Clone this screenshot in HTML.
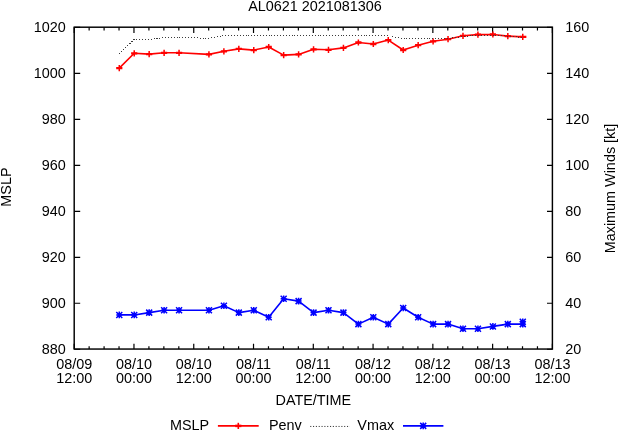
<!DOCTYPE html>
<html><head><meta charset="utf-8"><title>AL0621 2021081306</title>
<style>html,body{margin:0;padding:0;background:#fff;}svg{display:block;will-change:transform;transform:translateZ(0);}text{font-family:"Liberation Sans",sans-serif;font-size:14.4px;fill:#000;}</style>
</head><body>
<svg width="619" height="432" viewBox="0 0 619 432">
<rect width="619" height="432" fill="#fff"/>
<path d="M74.20 349.05v-5.40M74.20 27.20v5.85M89.14 349.05v-2.80M89.14 27.20v3.25M104.09 349.05v-2.80M104.09 27.20v3.25M119.03 349.05v-2.80M119.03 27.20v3.25M133.97 349.05v-5.40M133.97 27.20v5.85M148.92 349.05v-2.80M148.92 27.20v3.25M163.86 349.05v-2.80M163.86 27.20v3.25M178.81 349.05v-2.80M178.81 27.20v3.25M193.75 349.05v-5.40M193.75 27.20v5.85M208.69 349.05v-2.80M208.69 27.20v3.25M223.64 349.05v-2.80M223.64 27.20v3.25M238.58 349.05v-2.80M238.58 27.20v3.25M253.52 349.05v-5.40M253.52 27.20v5.85M268.47 349.05v-2.80M268.47 27.20v3.25M283.41 349.05v-2.80M283.41 27.20v3.25M298.36 349.05v-2.80M298.36 27.20v3.25M313.30 349.05v-5.40M313.30 27.20v5.85M328.24 349.05v-2.80M328.24 27.20v3.25M343.19 349.05v-2.80M343.19 27.20v3.25M358.13 349.05v-2.80M358.13 27.20v3.25M373.07 349.05v-5.40M373.07 27.20v5.85M388.02 349.05v-2.80M388.02 27.20v3.25M402.96 349.05v-2.80M402.96 27.20v3.25M417.91 349.05v-2.80M417.91 27.20v3.25M432.85 349.05v-5.40M432.85 27.20v5.85M447.79 349.05v-2.80M447.79 27.20v3.25M462.74 349.05v-2.80M462.74 27.20v3.25M477.68 349.05v-2.80M477.68 27.20v3.25M492.62 349.05v-5.40M492.62 27.20v5.85M507.57 349.05v-2.80M507.57 27.20v3.25M522.51 349.05v-2.80M522.51 27.20v3.25M537.46 349.05v-2.80M537.46 27.20v3.25M552.40 349.05v-5.40M552.40 27.20v5.85M74.20 27.40h6M552.40 27.40h-5.4M74.20 73.38h6M552.40 73.38h-5.4M74.20 119.36h6M552.40 119.36h-5.4M74.20 165.34h6M552.40 165.34h-5.4M74.20 211.31h6M552.40 211.31h-5.4M74.20 257.29h6M552.40 257.29h-5.4M74.20 303.27h6M552.40 303.27h-5.4M74.20 349.25h6M552.40 349.25h-5.4" stroke="#000" stroke-width="1.2" fill="none"/>
<rect x="74.20" y="27.20" width="478.20" height="321.85" fill="none" stroke="#000" stroke-width="1.45"/>
<text x="65.8" y="32.35" text-anchor="end">1020</text>
<text x="65.8" y="78.33" text-anchor="end">1000</text>
<text x="65.8" y="124.31" text-anchor="end">980</text>
<text x="65.8" y="170.29" text-anchor="end">960</text>
<text x="65.8" y="216.26" text-anchor="end">940</text>
<text x="65.8" y="262.24" text-anchor="end">920</text>
<text x="65.8" y="308.22" text-anchor="end">900</text>
<text x="65.8" y="354.20" text-anchor="end">880</text>
<text x="565.2" y="32.35">160</text>
<text x="565.2" y="78.33">140</text>
<text x="565.2" y="124.31">120</text>
<text x="565.2" y="170.29">100</text>
<text x="565.2" y="216.26">80</text>
<text x="565.2" y="262.24">60</text>
<text x="565.2" y="308.22">40</text>
<text x="565.2" y="354.20">20</text>
<text x="74.20" y="369.15" text-anchor="middle">08/09</text>
<text x="74.20" y="383.0" text-anchor="middle">12:00</text>
<text x="133.97" y="369.15" text-anchor="middle">08/10</text>
<text x="133.97" y="383.0" text-anchor="middle">00:00</text>
<text x="193.75" y="369.15" text-anchor="middle">08/10</text>
<text x="193.75" y="383.0" text-anchor="middle">12:00</text>
<text x="253.52" y="369.15" text-anchor="middle">08/11</text>
<text x="253.52" y="383.0" text-anchor="middle">00:00</text>
<text x="313.30" y="369.15" text-anchor="middle">08/11</text>
<text x="313.30" y="383.0" text-anchor="middle">12:00</text>
<text x="373.07" y="369.15" text-anchor="middle">08/12</text>
<text x="373.07" y="383.0" text-anchor="middle">00:00</text>
<text x="432.85" y="369.15" text-anchor="middle">08/12</text>
<text x="432.85" y="383.0" text-anchor="middle">12:00</text>
<text x="492.62" y="369.15" text-anchor="middle">08/13</text>
<text x="492.62" y="383.0" text-anchor="middle">00:00</text>
<text x="552.40" y="369.15" text-anchor="middle">08/13</text>
<text x="552.40" y="383.0" text-anchor="middle">12:00</text>
<text x="315" y="10.8" text-anchor="middle">AL0621 2021081306</text>
<text x="313.35" y="405.1" text-anchor="middle">DATE/TIME</text>
<text transform="translate(11.1,187.05) rotate(-90)" text-anchor="middle">MSLP</text>
<text transform="translate(614.6,188.5) rotate(-90)" text-anchor="middle">Maximum Winds [kt]</text>
<polyline points="119.28,68.10 134.22,53.30 149.17,54.10 164.11,52.80 179.06,52.80 208.94,54.40 223.89,51.30 238.83,48.90 253.77,50.10 268.72,47.00 283.66,55.10 298.61,54.40 313.55,49.30 328.49,49.80 343.44,47.90 358.38,42.50 373.32,44.00 388.27,40.10 403.21,50.00 418.16,45.20 433.10,41.30 448.04,39.20 462.99,35.80 477.93,34.60 492.88,34.50 507.82,36.10 522.76,36.90" fill="none" stroke="#f00" stroke-width="1.6" stroke-linejoin="round"/>
<path d="M116.18 68.10h6.2M131.12 53.30h6.2M146.07 54.10h6.2M161.01 52.80h6.2M175.96 52.80h6.2M205.84 54.40h6.2M220.79 51.30h6.2M235.73 48.90h6.2M250.67 50.10h6.2M265.62 47.00h6.2M280.56 55.10h6.2M295.51 54.40h6.2M310.45 49.30h6.2M325.39 49.80h6.2M340.34 47.90h6.2M355.28 42.50h6.2M370.22 44.00h6.2M385.17 40.10h6.2M400.11 50.00h6.2M415.06 45.20h6.2M430.00 41.30h6.2M444.94 39.20h6.2M459.89 35.80h6.2M474.83 34.60h6.2M489.77 34.50h6.2M504.72 36.10h6.2M519.66 36.90h6.2M525.36 36.90h1" stroke="#f00" stroke-width="2.3" fill="none"/>
<path d="M119.28 65.00v6.2M134.22 50.20v6.2M149.17 51.00v6.2M164.11 49.70v6.2M179.06 49.70v6.2M208.94 51.30v6.2M223.89 48.20v6.2M238.83 45.80v6.2M253.77 47.00v6.2M268.72 43.90v6.2M283.66 52.00v6.2M298.61 51.30v6.2M313.55 46.20v6.2M328.49 46.70v6.2M343.44 44.80v6.2M358.38 39.40v6.2M373.32 40.90v6.2M388.27 37.00v6.2M403.21 46.90v6.2M418.16 42.10v6.2M433.10 38.20v6.2M448.04 36.10v6.2M462.99 32.70v6.2M477.93 31.50v6.2M492.88 31.40v6.2M507.82 33.00v6.2M522.76 33.80v6.2" stroke="#f00" stroke-width="1.5" fill="none"/>
<polyline points="119.10,53.70 134.00,39.50 148.90,39.80 163.90,37.60 178.80,37.60 208.70,38.20 223.60,35.60 238.60,35.60 388.10,35.60 402.90,38.80 447.70,38.60 462.70,36.40 477.60,35.20 492.60,35.10 507.50,36.20 522.40,37.40" fill="none" stroke="#3a3a3a" stroke-width="1" stroke-dasharray="1 1.88" shape-rendering="crispEdges"/>
<polyline points="119.28,314.92 134.22,314.92 149.17,312.62 164.11,310.32 179.06,310.32 208.94,310.32 223.89,305.72 238.83,312.62 253.77,310.32 268.72,317.22 283.66,298.82 298.61,301.12 313.55,312.62 328.49,310.32 343.44,312.62 358.38,324.11 373.32,317.22 388.27,324.11 403.21,308.02 418.16,317.22 433.10,324.11 448.04,324.11 462.99,328.71 477.93,328.71 492.88,326.41 507.82,324.11 522.76,324.11 522.76,321.81" fill="none" stroke="#00f" stroke-width="1.6" stroke-linejoin="round"/>
<path d="M116.28 314.92h6M119.28 311.62v6.6M116.28 311.92l6 6M116.28 317.92l6 -6M131.22 314.92h6M134.22 311.62v6.6M131.22 311.92l6 6M131.22 317.92l6 -6M146.17 312.62h6M149.17 309.32v6.6M146.17 309.62l6 6M146.17 315.62l6 -6M161.11 310.32h6M164.11 307.02v6.6M161.11 307.32l6 6M161.11 313.32l6 -6M176.06 310.32h6M179.06 307.02v6.6M176.06 307.32l6 6M176.06 313.32l6 -6M205.94 310.32h6M208.94 307.02v6.6M205.94 307.32l6 6M205.94 313.32l6 -6M220.89 305.72h6M223.89 302.42v6.6M220.89 302.72l6 6M220.89 308.72l6 -6M235.83 312.62h6M238.83 309.32v6.6M235.83 309.62l6 6M235.83 315.62l6 -6M250.77 310.32h6M253.77 307.02v6.6M250.77 307.32l6 6M250.77 313.32l6 -6M265.72 317.22h6M268.72 313.92v6.6M265.72 314.22l6 6M265.72 320.22l6 -6M280.66 298.82h6M283.66 295.52v6.6M280.66 295.82l6 6M280.66 301.82l6 -6M295.61 301.12h6M298.61 297.82v6.6M295.61 298.12l6 6M295.61 304.12l6 -6M310.55 312.62h6M313.55 309.32v6.6M310.55 309.62l6 6M310.55 315.62l6 -6M325.49 310.32h6M328.49 307.02v6.6M325.49 307.32l6 6M325.49 313.32l6 -6M340.44 312.62h6M343.44 309.32v6.6M340.44 309.62l6 6M340.44 315.62l6 -6M355.38 324.11h6M358.38 320.81v6.6M355.38 321.11l6 6M355.38 327.11l6 -6M370.32 317.22h6M373.32 313.92v6.6M370.32 314.22l6 6M370.32 320.22l6 -6M385.27 324.11h6M388.27 320.81v6.6M385.27 321.11l6 6M385.27 327.11l6 -6M400.21 308.02h6M403.21 304.72v6.6M400.21 305.02l6 6M400.21 311.02l6 -6M415.16 317.22h6M418.16 313.92v6.6M415.16 314.22l6 6M415.16 320.22l6 -6M430.10 324.11h6M433.10 320.81v6.6M430.10 321.11l6 6M430.10 327.11l6 -6M445.04 324.11h6M448.04 320.81v6.6M445.04 321.11l6 6M445.04 327.11l6 -6M459.99 328.71h6M462.99 325.41v6.6M459.99 325.71l6 6M459.99 331.71l6 -6M474.93 328.71h6M477.93 325.41v6.6M474.93 325.71l6 6M474.93 331.71l6 -6M489.88 326.41h6M492.88 323.11v6.6M489.88 323.41l6 6M489.88 329.41l6 -6M504.82 324.11h6M507.82 320.81v6.6M504.82 321.11l6 6M504.82 327.11l6 -6M519.76 324.11h6M522.76 320.81v6.6M519.76 321.11l6 6M519.76 327.11l6 -6M519.76 321.81h6M522.76 318.51v6.6M519.76 318.81l6 6M519.76 324.81l6 -6" stroke="#00f" stroke-width="1.5" fill="none"/>
<text x="170.0" y="430.45">MSLP</text>
<path d="M217.9 425.9H258.7" stroke="#f00" stroke-width="1.85"/>
<path d="M235.2 425.9h6.2" stroke="#f00" stroke-width="2.5"/><path d="M238.3 422.8v6.2" stroke="#f00" stroke-width="1.6"/>
<text x="269.0" y="430.45">Penv</text>
<path d="M310.2 426.45H349.9" stroke="#333" stroke-width="1" stroke-dasharray="1.1 1.73"/>
<text x="357.3" y="430.45">Vmax</text>
<path d="M403 425.9H443.4" stroke="#00f" stroke-width="1.85"/>
<path d="M420.20 425.90h6M423.20 422.60v6.6M420.20 422.90l6 6M420.20 428.90l6 -6" stroke="#00f" stroke-width="1.5" fill="none"/>
</svg></body></html>
